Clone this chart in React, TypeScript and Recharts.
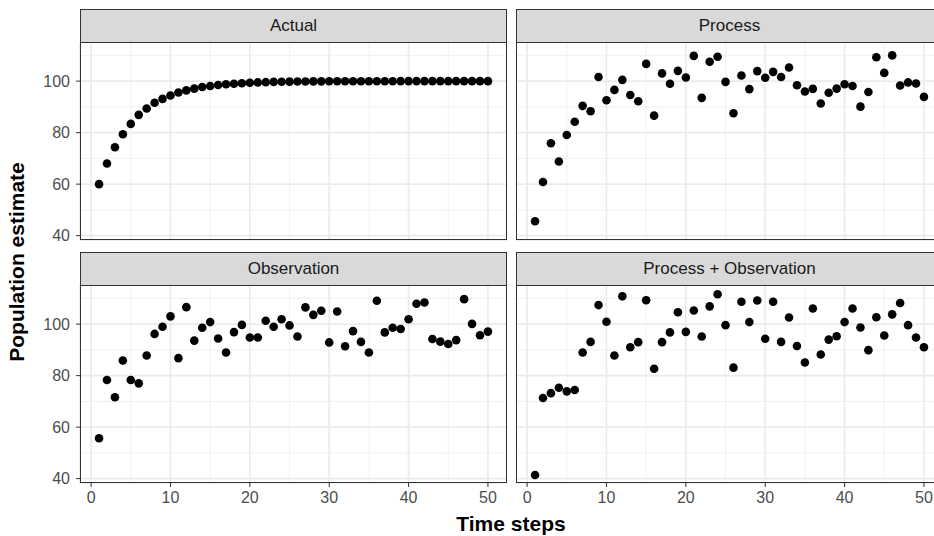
import { ScatterChart, Scatter, XAxis, YAxis, CartesianGrid } from 'recharts';

const timeSteps = [
  1, 2, 3, 4, 5, 6, 7, 8, 9, 10, 11, 12, 13, 14, 15, 16, 17, 18, 19, 20, 21, 22, 23, 24, 25,
  26, 27, 28, 29, 30, 31, 32, 33, 34, 35, 36, 37, 38, 39, 40, 41, 42, 43, 44, 45, 46, 47, 48, 49, 50,
];

const actual = [
  60.0, 68.0, 74.3, 79.4, 83.4, 86.9, 89.4, 91.6, 93.1, 94.4, 95.6, 96.4, 97.1, 97.7, 98.1, 98.5, 98.8,
  99.0, 99.2, 99.4, 99.5, 99.6, 99.7, 99.75, 99.8, 99.85, 99.87, 99.9, 99.92, 99.93, 99.95, 99.96, 99.96,
  99.97, 99.97, 99.98, 99.98, 99.98, 99.99, 99.99, 99.99, 99.99, 99.99, 100, 100, 100, 100, 100, 100, 100,
];

const processOnly = [
  45.6, 60.8, 75.9, 68.8, 79.1, 84.2, 90.4, 88.3, 101.6, 92.6, 96.6, 100.5, 94.6, 92.2, 106.7, 86.6, 103.0,
  99.0, 104.0, 101.4, 109.8, 93.5, 107.5, 109.5, 99.7, 87.5, 102.2, 96.9, 103.9, 101.3, 103.6, 101.6, 105.3,
  98.4, 96.0, 97.0, 91.3, 95.5, 97.1, 98.8, 98.1, 90.1, 95.8, 109.3, 103.2, 110.0, 98.3, 99.5, 99.1, 93.9,
];

const observation = [
  55.7, 78.3, 71.6, 85.9, 78.3, 77.0, 87.8, 96.2, 99.0, 103.0, 86.8, 106.6, 93.6, 98.6, 100.8, 94.4, 89.0,
  96.9, 99.7, 94.8, 94.8, 101.3, 99.0, 101.9, 99.5, 95.2, 106.5, 103.6, 105.2, 92.9, 104.9, 91.4, 97.3,
  93.1, 89.0, 109.1, 96.8, 98.6, 98.1, 101.9, 107.9, 108.4, 94.2, 93.2, 92.3, 93.8, 109.7, 100.1, 95.7, 97.1,
];

const processObservation = [
  41.4, 71.3, 73.2, 75.3, 73.9, 74.4, 89.0, 93.1, 107.4, 100.9, 87.8, 110.8, 91.0, 93.0, 109.3, 82.7, 93.0,
  96.8, 104.6, 97.0, 105.3, 95.2, 106.9, 111.6, 99.6, 83.1, 108.7, 100.8, 109.2, 94.3, 108.7, 93.1, 102.6,
  91.5, 85.1, 106.1, 88.2, 94.0, 95.3, 100.8, 106.1, 98.7, 89.9, 102.7, 95.6, 103.8, 108.2, 99.6, 94.8, 91.0,
];

const xTicks = [0, 10, 20, 30, 40, 50];
const xMinorTicks = [5, 15, 25, 35, 45];
const yTicks = [40, 60, 80, 100];
const yMinorTicks = [50, 70, 90, 110];

const X_DOMAIN: [number, number] = [-1.4, 52.4];
const Y_DOMAIN: [number, number] = [38.3, 115.2];

const FONT = '"Liberation Sans", Arial, sans-serif';
const PLOT_W = 427;
const PLOT_H = 198;
const STRIP_H = 33;
const AXIS_W = 80;
const AXIS_H = 34;
const PAD_B = 10;

const Dot = (props: any) => <circle cx={props.cx} cy={props.cy} r={4.3} fill="#000000" />;

interface PanelProps {
  title: string;
  values: number[];
  left: number;
  top: number;
  showX: boolean;
  showY: boolean;
}

function Panel({ title, values, left, top, showX, showY }: PanelProps) {
  const data = timeSteps.map((t, i) => ({ t, v: values[i] }));
  const width = PLOT_W + (showY ? AXIS_W : 0);
  const height = PLOT_H + (showX ? AXIS_H : PAD_B);
  const tickStyle = { fill: '#4D4D4D', fontSize: 16, fontFamily: FONT };

  return (
    <>
      <div
        style={{
          position: 'absolute',
          left,
          top: top - STRIP_H,
          width: PLOT_W,
          height: STRIP_H + 1,
          boxSizing: 'border-box',
          background: '#D9D9D9',
          border: '1px solid #333333',
          color: '#1A1A1A',
          fontFamily: FONT,
          fontSize: 17,
          lineHeight: `${STRIP_H - 1}px`,
          textAlign: 'center',
        }}
      >
        {title}
      </div>
      <div style={{ position: 'absolute', left: showY ? left - AXIS_W : left, top }}>
        <ScatterChart
          width={width}
          height={height}
          margin={{ top: 0, right: 0, bottom: showX ? 0 : PAD_B, left: 0 }}
        >
          <XAxis xAxisId="minor" type="number" dataKey="t" domain={X_DOMAIN} ticks={xMinorTicks} allowDataOverflow hide />
          <YAxis yAxisId="minor" type="number" dataKey="v" domain={Y_DOMAIN} ticks={yMinorTicks} allowDataOverflow hide />
          <XAxis
            type="number"
            dataKey="t"
            domain={X_DOMAIN}
            ticks={xTicks}
            interval={0}
            allowDataOverflow
            hide={!showX}
            height={AXIS_H}
            axisLine={false}
            tickLine={{ stroke: '#333333' }}
            tickSize={4}
            tickMargin={5}
            tick={tickStyle}
          />
          <YAxis
            type="number"
            dataKey="v"
            domain={Y_DOMAIN}
            ticks={yTicks}
            interval={0}
            allowDataOverflow
            hide={!showY}
            width={AXIS_W}
            axisLine={false}
            tickLine={{ stroke: '#333333' }}
            tickSize={4}
            tickMargin={6}
            tick={tickStyle}
          />
          <CartesianGrid xAxisId="minor" yAxisId="minor" stroke="#EFEFEF" strokeWidth={0.9} />
          <CartesianGrid stroke="#EBEBEB" strokeWidth={1.7} />
          <Scatter data={data} dataKey="v" shape={Dot} isAnimationActive={false} />
        </ScatterChart>
      </div>
      <div
        style={{
          position: 'absolute',
          left,
          top,
          width: PLOT_W,
          height: PLOT_H,
          boxSizing: 'border-box',
          border: '1px solid #333333',
          pointerEvents: 'none',
        }}
      />
    </>
  );
}

export default function App() {
  return (
    <div
      style={{
        position: 'absolute',
        left: 0,
        top: 0,
        width: 934,
        height: 536,
        overflow: 'hidden',
        background: '#FFFFFF',
        fontFamily: FONT,
      }}
    >
      <Panel title="Actual" values={actual} left={80} top={42} showX={false} showY={true} />
      <Panel title="Process" values={processOnly} left={516} top={42} showX={false} showY={false} />
      <Panel title="Observation" values={observation} left={80} top={285} showX={true} showY={true} />
      <Panel title="Process + Observation" values={processObservation} left={516} top={285} showX={true} showY={false} />
      <svg width={934} height={536} style={{ position: 'absolute', left: 0, top: 0, pointerEvents: 'none' }}>
        <text
          x={24}
          y={262}
          transform="rotate(-90 24 262)"
          textAnchor="middle"
          fontFamily={FONT}
          fontWeight="bold"
          fontSize={21}
          fill="#000000"
        >
          Population estimate
        </text>
        <text x={511} y={531} textAnchor="middle" fontFamily={FONT} fontWeight="bold" fontSize={21} fill="#000000">
          Time steps
        </text>
      </svg>
    </div>
  );
}
